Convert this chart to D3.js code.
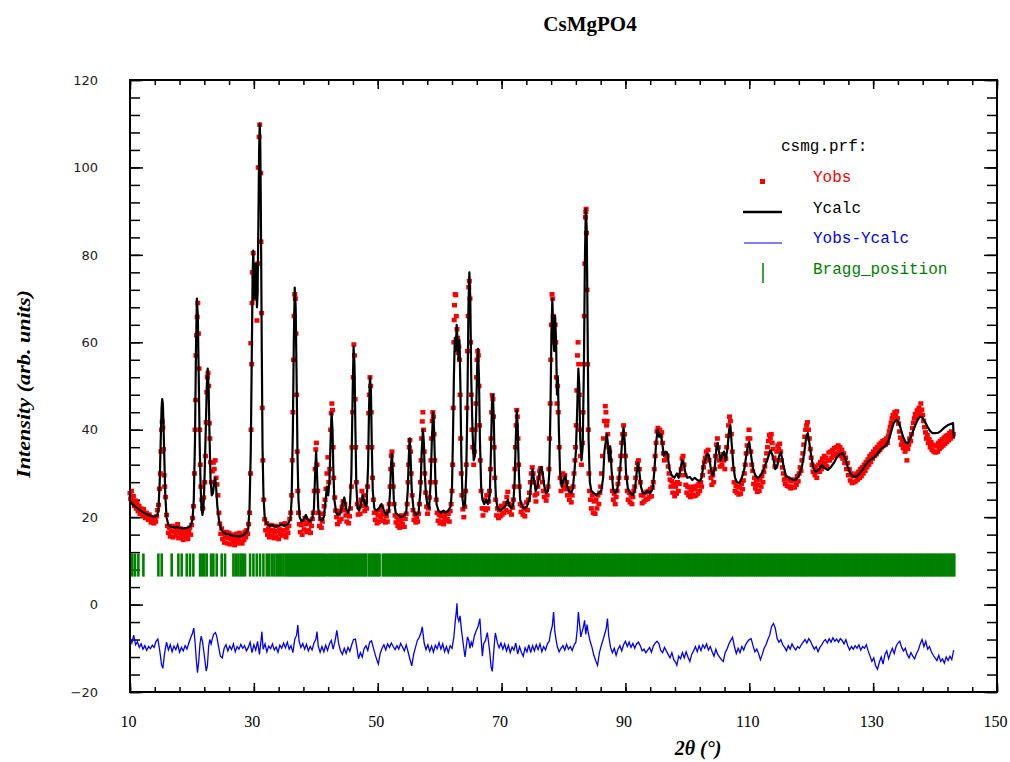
<!DOCTYPE html>
<html>
<head>
<meta charset="utf-8">
<script src="https://cdn.jsdelivr.net/npm/d3@7"></script>
<style>
    body { margin: 0; background: #fff; }
    svg { display: block; }
</style>
</head>
<body>
<script>
// tick labels
let xTicks = [10, 30, 50, 70, 90, 110, 130, 150];
let yTicks = [-20, 0, 20, 40, 60, 80, 100, 120];
let legendLabels = ["Yobs", "Ycalc", "Yobs-Ycalc", "Bragg_position"];

// calculated profile [2theta, intensity]
let yCalc = [
    [10.0,23.6],[10.4,23.0],[10.8,22.5],[11.2,22.0],[11.6,21.6],[12.0,21.2],[12.4,20.9],[12.8,20.6],[13.2,20.4],[13.6,20.2],
    [14.0,20.1],[14.4,20.3],[14.6,22],[14.8,28],[14.95,37],[15.1,45],[15.2,47],[15.3,46],[15.4,42],[15.55,33],
    [15.7,25],[15.9,20],[16.2,18.2],[16.6,17.8],[17.0,17.7],[17.4,17.6],[17.8,17.7],[18.2,17.5],[18.6,17.4],[19.0,17.5],
    [19.4,17.6],[19.8,18.0],[20.1,19.5],[20.3,24],[20.5,38],[20.65,58],[20.8,70],[20.95,66],[21.1,52],[21.25,37],
    [21.4,27],[21.55,22],[21.7,20.5],[21.85,22],[22.0,27],[22.2,38],[22.4,50],[22.55,54],[22.7,49],[22.85,38],
    [23.0,29],[23.2,25],[23.4,25.5],[23.6,28],[23.75,29],[23.9,27],[24.1,22.5],[24.4,19],[24.7,17.3],[25.0,16.6],
    [25.5,16.2],[26.0,16.0],[26.5,15.8],[27.0,15.7],[27.5,15.6],[28.0,15.7],[28.4,16.0],[28.8,16.5],[29.1,17.5],[29.3,22],
    [29.5,35],[29.65,55],[29.8,75],[29.9,81],[30.0,76],[30.1,70],[30.2,73],[30.3,78],[30.4,74],[30.5,68],
    [30.6,71],[30.75,90],[30.85,104],[30.95,110],[31.03,106],[31.1,96],[31.18,80],[31.28,58],[31.4,36],[31.55,25],
    [31.75,20],[32.05,18.5],[32.5,18.0],[33.0,18.2],[33.5,17.8],[34.0,18.0],[34.5,18.3],[35.0,18.0],[35.5,18.4],[35.9,19.5],
    [36.1,24],[36.3,40],[36.45,60],[36.6,72.5],[36.75,68],[36.9,52],[37.05,34],[37.2,24],[37.4,20],[37.7,19],
    [38.0,19.3],[38.4,20.5],[38.7,19.5],[39.0,19.0],[39.4,19.5],[39.7,22],[39.9,30],[40.05,35],[40.2,30],[40.4,22],
    [40.7,19.5],[41.0,19.2],[41.3,20],[41.6,24],[41.8,27],[42.0,25],[42.2,28],[42.4,38],[42.55,44],[42.7,40],
    [42.85,30],[43.0,24],[43.3,21],[43.6,20.5],[44.0,21],[44.3,23],[44.6,24.5],[44.9,22],[45.2,21],[45.5,22],
    [45.75,30],[45.95,48],[46.1,59],[46.25,55],[46.4,40],[46.55,27],[46.75,22],[47.0,21.5],[47.3,23],[47.6,25],
    [47.9,23],[48.2,22.5],[48.45,32],[48.6,45],[48.75,52],[48.9,49],[49.05,36],[49.2,26],[49.45,22],[49.8,21.5],
    [50.2,22],[50.6,23],[51.0,21.5],[51.4,20.5],[51.8,21.5],[52.0,26],[52.15,32],[52.3,34.5],[52.45,30],[52.6,24],
    [52.9,21],[53.3,20.5],[53.7,20],[54.2,20.3],[54.6,21],[54.85,26],[55.0,33],[55.15,38],[55.3,34],[55.5,26],
    [55.8,21.5],[56.2,20.5],[56.6,21],[56.9,26],[57.1,35],[57.3,40],[57.45,37],[57.6,30],[57.8,25],[58.0,23],
    [58.3,22],[58.55,28],[58.75,38],[58.95,44],[59.1,40],[59.3,29],[59.5,23],[59.8,21.5],[60.2,21],[60.6,21.5],
    [61.0,21],[61.4,21.5],[61.8,22.5],[62.0,27],[62.15,38],[62.3,52],[62.45,61],[62.6,58],[62.75,64],[62.9,60],
    [63.05,56],[63.2,60.5],[63.35,50],[63.5,34],[63.7,24],[63.9,22],[64.1,23],[64.3,30],[64.5,48],[64.65,68],
    [64.8,76],[64.95,70],[65.1,52],[65.3,40],[65.5,33],[65.7,34],[65.9,44],[66.05,54],[66.2,58.5],[66.35,52],
    [66.5,38],[66.7,27],[66.9,24],[67.2,23],[67.5,24],[67.8,23],[68.1,25],[68.3,36],[68.45,46],[68.6,48],
    [68.75,42],[68.9,31],[69.1,24],[69.4,22],[69.8,21.5],[70.2,22],[70.6,22.5],[71.0,24],[71.3,22.5],[71.6,22],
    [71.9,23],[72.1,28],[72.3,38],[72.45,44.5],[72.6,41],[72.8,30],[73.0,24],[73.3,22.5],[73.7,22],[74.1,22.5],
    [74.5,24],[74.8,28],[75.0,31],[75.2,29],[75.5,26],[75.8,27],[76.1,30],[76.4,31.5],[76.65,30],[76.9,27],
    [77.2,25.5],[77.5,26],[77.7,30],[77.9,45],[78.05,62],[78.2,70],[78.35,62],[78.5,58],[78.65,66],[78.8,60],
    [78.95,48],[79.1,52],[79.25,40],[79.45,30],[79.7,27],[80.0,28.5],[80.3,29.5],[80.6,27],[80.9,26],[81.2,25.5],
    [81.5,26.5],[81.8,31],[82.0,35],[82.2,44],[82.4,54],[82.55,50],[82.7,38],[82.9,33],[83.1,36],[83.3,55],
    [83.45,78],[83.6,90.5],[83.75,86],[83.9,62],[84.05,38],[84.25,28],[84.5,26],[84.9,25.5],[85.3,25],[85.7,25.5],
    [86.1,26],[86.4,29],[86.6,35],[86.8,37],[87.0,39],[87.15,37],[87.35,33],[87.55,36],[87.75,31],[88.0,26.5],
    [88.3,25.5],[88.6,26],[88.9,28],[89.2,32],[89.5,38],[89.7,40.5],[89.9,37],[90.1,30],[90.4,26.5],[90.8,25.5],
    [91.2,25],[91.5,26],[91.8,30],[92.0,32.5],[92.2,31],[92.5,27],[92.8,25.5],[93.2,25.5],[93.6,26],[94.0,25.5],
    [94.4,26.5],[94.7,31],[94.95,37],[95.2,40],[95.45,38.5],[95.7,39],[95.95,37],[96.2,34],[96.5,35],[96.8,34.5],
    [97.1,31],[97.5,29.5],[97.9,29],[98.3,30],[98.6,29],[98.9,31],[99.15,33],[99.4,32.5],[99.7,30],[100.0,29],
    [100.4,29.2],[100.8,28.5],[101.2,29],[101.6,28.5],[102.0,28.2],[102.3,29],[102.6,32],[102.9,33],[103.2,34.5],[103.5,34],
    [103.8,31],[104.1,29.5],[104.4,31],[104.7,36],[104.9,37],[105.1,35],[105.35,33],[105.6,34],[105.9,35],[106.2,33],
    [106.5,36],[106.75,40],[106.95,41],[107.15,37],[107.4,32],[107.7,29],[108.0,28],[108.4,27.8],[108.8,29],[109.2,31],
    [109.5,34],[109.8,36.5],[110.0,37.2],[110.3,34],[110.6,31],[111.0,29.5],[111.4,28.9],[111.8,29.5],[112.2,30.5],[112.6,32],
    [113.0,33.5],[113.4,35.3],[113.8,34],[114.2,31],[114.5,31.5],[114.8,34],[115.1,34.8],[115.5,32],[115.9,29.5],[116.4,29],
    [117.0,28.6],[117.5,28.5],[118.0,29.5],[118.5,31.5],[118.9,35],[119.2,38.5],[119.45,39.2],[119.7,37],[120.0,34],[120.3,31.5],
    [120.7,30.3],[121.2,30.8],[121.7,31.9],[122.2,31.2],[122.7,30.8],[123.2,31.5],[123.7,32.5],[124.2,33.8],[124.7,34.5],[125.1,34.6],
    [125.5,33.5],[125.9,31.5],[126.3,30],[126.8,29.3],[127.2,29.2],[127.7,29.8],[128.2,30.7],[128.7,31.8],[129.2,32.7],[129.7,33.3],
    [130.2,33.7],[130.7,34.5],[131.2,35.5],[131.7,36],[132.1,36.5],[132.5,37.5],[132.9,39.5],[133.3,41.5],[133.7,42.2],[134.0,42],
    [134.4,40.5],[134.8,38.5],[135.2,37.2],[135.6,36.9],[136.0,38],[136.4,39.5],[136.8,41],[137.2,42.3],[137.6,43],[138.0,42.7],
    [138.4,41.7],[138.8,40.6],[139.2,39.7],[139.6,39.2],[140.0,39.2],[140.5,39.3],[141.0,39.8],[141.5,40.5],[142.0,41],[142.5,41.3],
    [142.9,41.5],[143.02,38.2]
];

// observed points [2theta, intensity]
let yObs = [
    [10.0,25.5],[10.1,24.2],[10.25,26.0],[10.4,23.4],[10.55,24.8],[10.7,22.6],[10.85,23.8],[11.0,22.0],[11.15,23.2],[11.3,21.4],
    [11.45,22.6],[11.6,20.8],[11.75,22.0],[11.9,21.2],[12.05,20.4],[12.2,21.8],[12.35,20.6],[12.5,19.8],[12.65,21.0],[12.8,20.2],
    [12.95,19.4],[13.1,20.6],[13.25,19.6],[13.4,18.8],[13.55,20.0],[13.7,19.2],[13.85,18.6],[14.0,19.8],[14.15,19.0],[14.3,20.2],
    [14.45,21.6],[14.6,22.8],[14.75,26.5],[14.9,30.0],[15.0,35.0],[15.1,40.0],[15.2,41.8],[15.3,40.5],[15.4,35.5],[15.5,29.6],
    [15.6,27.0],[15.75,24.6],[15.9,20.5],[16.05,18.0],[16.2,16.4],[16.35,17.6],[16.5,15.6],[16.65,16.8],[16.8,18.0],[16.95,15.4],
    [17.1,16.6],[17.25,17.8],[17.4,15.8],[17.55,16.9],[17.7,18.4],[17.85,15.2],[18.0,16.4],[18.15,17.4],[18.3,15.6],[18.45,16.8],
    [18.6,14.8],[18.75,16.0],[18.9,17.2],[19.05,15.4],[19.2,16.4],[19.35,15.0],[19.5,16.8],[19.65,17.6],[19.8,16.0],[19.95,18.2],
    [20.1,19.8],[20.25,22.5],[20.4,30.0],[20.5,40.0],[20.6,46.8],[20.65,57.0],[20.75,61.6],[20.85,65.8],[20.95,69.0],[21.05,62.0],
    [21.15,54.0],[21.25,40.0],[21.35,32.0],[21.45,27.0],[21.6,24.0],[21.75,22.0],[21.9,24.5],[22.05,28.0],[22.2,34.0],[22.3,41.7],
    [22.4,48.6],[22.5,52.0],[22.6,53.0],[22.7,50.0],[22.8,41.5],[22.9,38.0],[23.0,32.6],[23.15,28.0],[23.3,30.5],[23.45,32.5],
    [23.6,31.0],[23.75,33.0],[23.9,29.0],[24.05,27.5],[24.2,25.0],[24.35,21.0],[24.5,18.5],[24.65,16.2],[24.8,17.4],[24.95,15.0],
    [25.1,16.2],[25.25,14.2],[25.4,15.4],[25.55,16.6],[25.7,14.0],[25.85,15.2],[26.0,16.4],[26.15,13.8],[26.3,15.0],[26.45,16.0],
    [26.6,14.4],[26.75,15.6],[26.9,13.6],[27.05,14.8],[27.2,16.2],[27.35,14.0],[27.5,15.2],[27.65,16.4],[27.8,14.4],[27.95,15.6],
    [28.1,14.0],[28.25,16.0],[28.4,14.8],[28.55,16.6],[28.7,15.4],[28.85,17.0],[29.0,16.2],[29.15,18.4],[29.3,21.0],[29.45,30.0],
    [29.5,59.8],[29.55,40.0],[29.65,55.0],[29.7,69.0],[29.75,76.0],[29.9,80.4],[30.05,75.0],[30.2,70.0],[30.35,72.0],[30.5,65.0],
    [30.65,78.0],[30.7,100.0],[30.85,107.0],[30.95,109.8],[31.0,83.0],[31.1,98.7],[31.15,83.0],[31.25,66.7],[31.35,45.0],[31.45,33.0],
    [31.6,24.0],[31.75,19.5],[31.9,17.0],[32.05,18.6],[32.2,16.0],[32.35,17.4],[32.5,15.4],[32.65,16.8],[32.8,18.2],[32.95,15.8],
    [33.1,17.0],[33.25,15.2],[33.4,16.6],[33.55,18.0],[33.7,15.6],[33.85,16.8],[34.0,15.0],[34.15,17.2],[34.3,16.2],[34.45,18.4],
    [34.6,15.8],[34.75,17.0],[34.9,16.0],[35.05,18.6],[35.2,15.4],[35.35,17.4],[35.5,16.4],[35.65,18.0],[35.8,19.6],[35.95,21.0],
    [36.1,25.0],[36.2,33.0],[36.3,44.0],[36.4,56.0],[36.5,66.0],[36.6,71.0],[36.7,70.0],[36.8,62.0],[36.9,48.0],[37.0,35.0],
    [37.1,26.0],[37.2,21.0],[37.35,18.4],[37.5,16.6],[37.65,18.2],[37.8,16.0],[37.95,19.0],[38.1,17.2],[38.25,19.8],[38.4,18.4],
    [38.55,16.6],[38.7,19.2],[38.85,17.0],[39.0,18.6],[39.15,16.4],[39.3,18.0],[39.45,19.6],[39.6,21.0],[39.75,26.0],[39.9,31.0],
    [40.0,35.5],[40.1,37.0],[40.2,32.0],[40.3,26.0],[40.45,21.0],[40.6,18.0],[40.75,19.6],[40.9,17.6],[41.05,19.0],[41.2,20.8],
    [41.35,22.5],[41.5,24.0],[41.65,26.5],[41.8,30.0],[41.95,33.7],[42.1,28.0],[42.25,31.0],[42.4,40.0],[42.5,43.8],[42.6,46.0],
    [42.7,44.5],[42.8,36.0],[42.9,29.0],[43.05,24.5],[43.2,21.5],[43.35,20.0],[43.5,18.4],[43.65,20.8],[43.8,19.0],[43.95,21.4],
    [44.1,19.6],[44.25,22.4],[44.4,23.6],[44.55,21.6],[44.7,23.0],[44.85,20.4],[45.0,19.0],[45.15,20.6],[45.3,18.6],[45.45,20.2],
    [45.6,22.0],[45.75,27.0],[45.85,36.0],[45.95,44.0],[46.05,52.0],[46.15,59.5],[46.25,57.0],[46.35,47.0],[46.45,36.0],[46.55,28.0],
    [46.7,23.0],[46.85,20.6],[47.0,22.4],[47.15,20.8],[47.3,24.0],[47.45,26.0],[47.6,22.6],[47.75,25.0],[47.9,21.4],[48.05,23.6],
    [48.2,22.0],[48.35,27.0],[48.45,36.0],[48.55,43.8],[48.65,48.0],[48.75,52.0],[48.85,50.0],[48.95,44.0],[49.05,36.0],[49.15,29.0],
    [49.3,24.0],[49.45,21.0],[49.6,19.4],[49.75,21.2],[49.9,18.6],[50.05,20.4],[50.2,19.0],[50.35,21.6],[50.5,20.0],[50.65,22.4],
    [50.8,21.0],[50.95,19.2],[51.1,20.6],[51.25,18.8],[51.4,20.2],[51.55,19.0],[51.7,21.4],[51.85,23.0],[52.0,27.0],[52.1,31.0],
    [52.2,34.0],[52.3,35.0],[52.4,32.0],[52.5,27.0],[52.65,23.0],[52.8,20.4],[52.95,18.8],[53.1,20.0],[53.25,18.0],[53.4,19.4],
    [53.55,17.6],[53.7,19.0],[53.85,20.4],[54.0,18.4],[54.15,19.8],[54.3,17.8],[54.45,19.6],[54.6,20.8],[54.75,23.0],[54.9,28.0],
    [55.0,32.0],[55.1,36.0],[55.2,37.6],[55.3,35.0],[55.4,30.0],[55.55,25.0],[55.7,21.6],[55.85,19.4],[56.0,20.6],[56.15,18.8],
    [56.3,20.0],[56.45,19.0],[56.6,20.8],[56.75,23.0],[56.9,28.0],[57.0,33.0],[57.1,38.0],[57.2,41.9],[57.3,44.0],[57.4,40.0],
    [57.5,35.0],[57.6,30.0],[57.75,25.6],[57.9,22.4],[58.05,20.8],[58.2,22.0],[58.35,24.5],[58.5,28.0],[58.6,33.0],[58.7,38.0],
    [58.8,42.0],[58.9,44.0],[59.0,43.0],[59.1,39.0],[59.2,33.0],[59.3,28.0],[59.45,24.0],[59.6,21.0],[59.75,19.2],[59.9,20.6],
    [60.05,18.6],[60.2,20.2],[60.35,19.0],[60.5,21.0],[60.65,18.4],[60.8,20.0],[60.95,19.2],[61.1,21.0],[61.25,19.6],[61.4,20.8],
    [61.55,19.0],[61.7,21.4],[61.85,23.0],[62.0,26.0],[62.1,32.0],[62.2,45.0],[62.3,60.0],[62.35,65.1],[62.4,68.5],[62.5,71.0],
    [62.6,70.8],[62.7,66.0],[62.8,63.0],[62.9,61.0],[63.0,57.6],[63.1,59.0],[63.2,56.0],[63.3,48.0],[63.4,38.0],[63.5,30.0],
    [63.6,25.0],[63.75,21.8],[63.9,20.0],[64.05,22.4],[64.2,26.0],[64.3,32.0],[64.4,45.0],[64.5,58.0],[64.6,66.0],[64.7,72.6],
    [64.8,74.0],[64.9,70.0],[65.0,60.0],[65.1,48.0],[65.2,40.0],[65.35,36.0],[65.5,32.0],[65.6,35.0],[65.75,40.0],[65.85,46.0],
    [65.95,52.0],[66.05,56.0],[66.15,58.0],[66.25,57.0],[66.35,50.0],[66.45,41.0],[66.55,33.0],[66.7,26.0],[66.85,22.0],[67.0,20.4],
    [67.15,22.0],[67.3,24.0],[67.45,21.6],[67.6,25.0],[67.75,22.0],[67.9,23.6],[68.05,26.0],[68.2,31.0],[68.3,38.0],[68.4,44.0],
    [68.5,47.9],[68.6,47.0],[68.7,43.0],[68.8,36.0],[68.9,29.0],[69.05,24.0],[69.2,20.4],[69.35,22.0],[69.5,19.8],[69.65,21.6],
    [69.8,20.2],[69.95,22.6],[70.1,20.6],[70.25,22.4],[70.4,21.0],[70.55,23.2],[70.7,21.6],[70.85,24.6],[71.0,25.8],[71.15,23.0],
    [71.3,21.2],[71.45,22.8],[71.6,20.6],[71.75,22.2],[71.9,24.0],[72.05,27.0],[72.15,31.0],[72.25,36.0],[72.35,41.0],[72.45,44.5],
    [72.55,43.0],[72.65,38.0],[72.75,32.0],[72.85,27.0],[73.0,23.0],[73.15,21.2],[73.3,22.6],[73.45,20.6],[73.6,22.0],[73.75,20.2],
    [73.9,21.8],[74.05,23.4],[74.2,21.6],[74.35,24.0],[74.5,25.6],[74.65,28.0],[74.8,30.0],[74.95,31.4],[75.1,30.0],[75.25,28.0],
    [75.4,25.0],[75.55,23.6],[75.7,25.4],[75.85,27.0],[76.0,29.0],[76.15,30.6],[76.3,31.2],[76.45,30.0],[76.6,28.0],[76.75,26.0],
    [76.9,24.6],[77.05,26.0],[77.2,23.8],[77.35,25.0],[77.5,27.0],[77.65,31.0],[77.75,38.0],[77.85,46.0],[77.95,56.0],[78.05,64.0],
    [78.15,71.0],[78.25,70.0],[78.35,66.0],[78.45,62.0],[78.55,60.0],[78.65,64.0],[78.75,60.0],[78.85,52.0],[78.95,46.0],[79.05,50.0],
    [79.15,44.0],[79.3,36.0],[79.45,29.0],[79.6,26.0],[79.75,28.0],[79.9,30.0],[80.05,27.0],[80.2,29.6],[80.35,26.4],[80.5,28.0],
    [80.65,25.0],[80.8,26.6],[80.95,24.0],[81.1,25.6],[81.25,23.4],[81.4,25.0],[81.55,27.0],[81.7,30.0],[81.85,33.0],[81.95,36.0],
    [82.05,41.0],[82.15,49.0],[82.25,57.0],[82.35,60.0],[82.45,55.0],[82.55,48.0],[82.65,40.0],[82.75,34.0],[82.9,32.0],[83.05,37.0],
    [83.15,44.0],[83.25,55.0],[83.35,66.0],[83.45,78.0],[83.55,88.6],[83.6,89.8],[83.65,90.5],[83.7,85.0],[83.8,72.0],[83.9,55.0],
    [84.0,40.0],[84.1,30.0],[84.2,26.0],[84.35,24.0],[84.5,22.0],[84.65,25.0],[84.8,21.0],[84.95,23.6],[85.1,20.8],[85.25,24.0],
    [85.4,22.0],[85.55,25.0],[85.7,23.0],[85.85,25.6],[86.0,27.0],[86.15,30.0],[86.3,34.0],[86.45,38.0],[86.6,42.0],[86.75,45.4],
    [86.85,44.0],[86.95,41.0],[87.05,42.0],[87.15,39.0],[87.3,36.0],[87.45,35.0],[87.6,33.0],[87.75,29.0],[87.9,26.0],[88.05,24.0],
    [88.2,25.4],[88.35,23.0],[88.5,24.6],[88.65,26.0],[88.8,27.6],[88.95,29.0],[89.1,31.0],[89.25,34.0],[89.4,37.0],[89.55,39.0],
    [89.7,41.0],[89.85,39.0],[90.0,34.0],[90.15,29.0],[90.3,26.0],[90.45,24.0],[90.6,25.6],[90.75,23.4],[90.9,25.0],[91.05,23.0],
    [91.2,24.6],[91.35,26.0],[91.5,27.0],[91.65,29.0],[91.8,31.0],[91.95,32.4],[92.1,33.0],[92.25,31.0],[92.4,28.0],[92.55,25.0],
    [92.7,23.2],[92.85,25.0],[93.0,23.6],[93.15,25.6],[93.3,24.0],[93.45,25.8],[93.6,24.2],[93.75,26.0],[93.9,24.6],[94.05,26.4],
    [94.2,24.8],[94.35,26.8],[94.5,28.0],[94.65,31.0],[94.8,34.0],[94.95,37.0],[95.1,39.6],[95.25,40.4],[95.4,39.0],[95.55,40.0],
    [95.7,38.6],[95.85,39.4],[96.0,37.0],[96.15,34.6],[96.3,33.0],[96.45,34.6],[96.6,33.2],[96.75,34.0],[96.9,31.6],[97.05,30.0],
    [97.2,28.6],[97.35,27.0],[97.5,28.2],[97.65,25.6],[97.8,27.6],[97.95,24.8],[98.1,27.0],[98.25,25.4],[98.4,28.0],[98.55,26.0],
    [98.7,27.6],[98.85,29.6],[99.0,31.0],[99.15,33.4],[99.3,34.0],[99.45,32.0],[99.6,29.6],[99.75,27.4],[99.9,25.6],[100.05,27.0],
    [100.2,25.0],[100.35,26.8],[100.5,24.6],[100.65,26.2],[100.8,25.2],[100.95,27.0],[101.1,24.8],[101.25,26.4],[101.4,25.0],[101.55,27.2],
    [101.7,25.4],[101.85,27.6],[102.0,26.0],[102.15,28.0],[102.3,27.0],[102.45,29.6],[102.6,31.4],[102.75,32.6],[102.9,33.6],[103.05,35.0],
    [103.2,34.0],[103.35,35.4],[103.5,33.0],[103.65,30.4],[103.8,29.0],[103.95,27.4],[104.1,29.6],[104.25,28.0],[104.4,31.0],[104.55,34.0],
    [104.7,36.6],[104.85,38.0],[105.0,36.0],[105.15,33.0],[105.3,31.6],[105.45,33.6],[105.6,32.0],[105.75,34.4],[105.9,33.0],[106.05,31.0],
    [106.2,33.4],[106.35,36.0],[106.5,38.6],[106.65,41.0],[106.8,43.0],[106.95,42.0],[107.1,39.0],[107.25,35.0],[107.4,31.0],[107.55,28.0],
    [107.7,26.0],[107.85,27.2],[108.0,25.6],[108.15,27.0],[108.3,25.2],[108.45,26.8],[108.6,25.4],[108.75,27.6],[108.9,26.4],[109.05,28.4],
    [109.2,30.0],[109.35,32.0],[109.5,34.6],[109.65,36.4],[109.8,38.0],[109.95,40.0],[110.1,38.0],[110.25,35.0],[110.4,32.0],[110.55,30.6],
    [110.7,27.6],[110.85,29.0],[111.0,26.6],[111.15,28.4],[111.3,25.8],[111.45,27.4],[111.6,26.0],[111.75,28.6],[111.9,27.0],[112.05,29.4],
    [112.2,28.0],[112.35,30.4],[112.5,31.6],[112.65,33.0],[112.8,34.6],[112.95,36.0],[113.1,37.4],[113.25,38.8],[113.4,38.0],[113.55,39.0],
    [113.7,37.0],[113.85,35.6],[114.0,33.6],[114.15,31.6],[114.3,33.0],[114.45,35.0],[114.6,36.4],[114.75,35.6],[114.9,36.8],[115.05,35.0],
    [115.2,33.0],[115.35,31.4],[115.5,30.0],[115.65,28.6],[115.8,27.6],[115.95,29.0],[116.1,27.2],[116.25,28.8],[116.4,27.0],[116.55,28.4],
    [116.7,26.6],[116.85,28.2],[117.0,27.0],[117.15,28.6],[117.3,26.8],[117.45,28.4],[117.6,27.4],[117.75,29.4],[117.9,28.2],[118.05,30.0],
    [118.2,31.4],[118.35,30.6],[118.5,33.0],[118.65,34.6],[118.8,36.6],[118.95,38.4],[119.1,40.0],[119.25,41.0],[119.4,41.7],[119.55,40.0],
    [119.7,38.0],[119.85,35.6],[120.0,33.6],[120.15,32.0],[120.3,30.4],[120.45,31.6],[120.6,29.6],[120.75,31.0],[120.9,29.0],[121.05,30.6],
    [121.2,32.0],[121.35,30.4],[121.5,32.6],[121.65,31.0],[121.8,33.4],[121.95,32.0],[122.1,34.0],[122.25,32.4],[122.4,33.6],[122.55,31.6],
    [122.7,33.0],[122.85,34.8],[123.0,33.0],[123.15,35.0],[123.3,33.6],[123.45,35.4],[123.6,34.0],[123.75,35.8],[123.9,34.4],[124.05,36.0],
    [124.2,34.6],[124.35,36.4],[124.5,35.0],[124.65,36.0],[124.8,34.0],[124.95,35.4],[125.1,33.4],[125.25,34.6],[125.4,32.4],[125.55,33.6],
    [125.7,31.0],[125.85,32.4],[126.0,29.6],[126.15,31.0],[126.3,28.4],[126.45,30.0],[126.6,27.8],[126.75,29.4],[126.9,28.0],[127.05,29.6],
    [127.2,28.2],[127.35,30.0],[127.5,28.6],[127.65,30.4],[127.8,29.0],[127.95,31.0],[128.1,29.4],[128.25,31.4],[128.4,30.0],[128.55,32.0],
    [128.7,30.6],[128.85,32.6],[129.0,31.4],[129.15,33.2],[129.3,32.0],[129.45,34.0],[129.6,32.6],[129.75,34.4],[129.9,33.4],[130.05,35.0],
    [130.2,34.0],[130.35,35.6],[130.5,34.4],[130.65,36.0],[130.8,35.0],[130.95,36.6],[131.1,35.4],[131.25,37.0],[131.4,36.0],[131.55,37.4],
    [131.7,36.4],[131.85,37.6],[132.0,36.6],[132.15,38.0],[132.3,37.0],[132.45,38.6],[132.6,39.6],[132.75,40.6],[132.9,41.6],[133.05,42.6],
    [133.2,43.4],[133.35,42.6],[133.5,44.0],[133.65,43.2],[133.8,44.2],[133.95,42.6],[134.1,41.4],[134.25,39.6],[134.4,38.2],[134.55,36.6],
    [134.7,37.6],[134.85,35.8],[135.0,36.8],[135.15,35.0],[135.3,36.4],[135.45,33.0],[135.6,35.6],[135.75,36.6],[135.9,38.0],[136.05,37.4],
    [136.2,39.0],[136.35,40.4],[136.5,41.6],[136.65,42.6],[136.8,43.6],[136.95,42.8],[137.1,44.4],[137.25,43.4],[137.4,45.0],[137.55,44.0],
    [137.7,46.0],[137.85,44.6],[138.0,43.4],[138.15,42.0],[138.3,40.6],[138.45,39.4],[138.6,38.0],[138.75,38.8],[138.9,37.0],[139.05,37.8],
    [139.2,36.0],[139.35,37.2],[139.5,35.4],[139.65,36.6],[139.8,35.0],[139.95,36.4],[140.1,34.8],[140.25,36.2],[140.4,35.0],[140.55,37.0],
    [140.7,35.6],[140.85,37.4],[141.0,36.0],[141.15,37.8],[141.3,36.4],[141.45,38.2],[141.6,36.8],[141.75,38.6],[141.9,37.2],[142.05,38.8],
    [142.2,37.6],[142.35,39.2],[142.5,38.0],[142.65,39.6],[142.8,38.4],[142.95,39.0]
];

// difference curve Yobs-Ycalc as plotted (offset below zero)
let yDiff = [
    [10.0,-7.5],[10.3,-8.8],[10.6,-7.0],[10.9,-9.2],[11.2,-8.5],[11.5,-9.8],[11.8,-9.0],[12.1,-10.2],[12.4,-9.4],[12.7,-10.5],
    [13.0,-9.6],[13.3,-10.1],[13.6,-9.3],[13.9,-9.8],[14.2,-8.4],[14.5,-7.9],[14.8,-10.5],[15.1,-13.8],[15.3,-14.6],[15.6,-11.0],
    [15.9,-8.6],[16.2,-10.4],[16.5,-9.2],[16.8,-10.8],[17.1,-9.5],[17.4,-10.3],[17.7,-9.1],[18.0,-10.9],[18.3,-9.8],[18.6,-10.6],
    [18.9,-9.4],[19.2,-10.2],[19.5,-8.8],[19.8,-7.6],[20.1,-6.5],[20.3,-5.4],[20.5,-8.5],[20.7,-12.5],[20.9,-15.6],[21.1,-13.0],
    [21.3,-9.0],[21.5,-7.2],[21.7,-8.4],[21.9,-10.5],[22.1,-12.8],[22.3,-15.2],[22.5,-14.0],[22.7,-9.5],[22.9,-8.0],[23.1,-9.0],
    [23.3,-7.8],[23.5,-6.8],[23.8,-6.4],[24.0,-7.2],[24.3,-9.6],[24.6,-11.8],[24.9,-12.2],[25.2,-10.0],[25.5,-9.2],[25.8,-10.6],
    [26.1,-9.5],[26.4,-10.3],[26.7,-9.0],[27.0,-10.8],[27.3,-9.6],[27.6,-10.2],[27.9,-9.1],[28.2,-10.0],[28.5,-9.4],[28.8,-10.6],
    [29.1,-9.8],[29.4,-8.6],[29.7,-11.0],[30.0,-9.2],[30.3,-10.4],[30.6,-8.4],[30.9,-11.4],[31.1,-9.0],[31.3,-6.2],[31.5,-10.2],
    [31.8,-9.0],[32.1,-10.8],[32.4,-9.5],[32.7,-10.1],[33.0,-9.0],[33.3,-10.4],[33.6,-9.7],[33.9,-10.9],[34.2,-9.3],[34.5,-10.0],
    [34.8,-8.8],[35.1,-9.9],[35.4,-8.6],[35.7,-10.2],[36.0,-9.4],[36.3,-11.0],[36.6,-8.0],[36.9,-7.0],[37.1,-4.7],[37.3,-8.4],
    [37.6,-9.8],[37.9,-8.9],[38.2,-10.2],[38.5,-9.1],[38.8,-10.6],[39.1,-9.6],[39.4,-10.4],[39.7,-8.8],[40.0,-8.0],[40.2,-6.2],
    [40.4,-9.5],[40.7,-10.9],[41.0,-9.6],[41.3,-10.8],[41.6,-9.3],[41.9,-10.5],[42.2,-9.0],[42.5,-8.2],[42.8,-10.2],[43.1,-8.4],
    [43.4,-5.9],[43.7,-9.0],[44.0,-10.6],[44.3,-11.4],[44.6,-10.0],[44.9,-11.2],[45.2,-9.8],[45.5,-10.7],[45.8,-9.2],[46.1,-8.0],
    [46.4,-7.9],[46.7,-10.5],[46.9,-12.4],[47.2,-11.0],[47.5,-12.0],[47.8,-10.1],[48.1,-9.4],[48.4,-10.5],[48.7,-8.6],[49.0,-8.3],
    [49.3,-9.9],[49.6,-11.5],[49.9,-12.8],[50.1,-13.6],[50.4,-11.2],[50.7,-10.0],[51.0,-9.2],[51.3,-10.4],[51.6,-9.0],[51.9,-9.8],
    [52.2,-8.8],[52.5,-9.6],[52.8,-10.3],[53.1,-9.4],[53.4,-10.2],[53.7,-8.9],[54.0,-9.7],[54.3,-10.6],[54.6,-9.2],[54.9,-10.8],
    [55.2,-12.5],[55.5,-14.0],[55.8,-11.4],[56.1,-9.8],[56.4,-8.2],[56.7,-7.5],[57.0,-6.4],[57.2,-5.1],[57.5,-8.8],[57.8,-10.3],
    [58.1,-9.2],[58.4,-10.7],[58.7,-9.5],[59.0,-10.9],[59.3,-9.3],[59.6,-10.1],[59.9,-8.7],[60.2,-10.2],[60.5,-9.0],[60.8,-10.8],
    [61.1,-9.6],[61.4,-11.0],[61.7,-9.4],[62.0,-10.0],[62.3,-7.4],[62.5,-4.2],[62.7,-1.5],[62.8,0.3],[62.9,-2.8],[63.1,-3.8],
    [63.3,-2.6],[63.5,-5.5],[63.7,-7.8],[63.9,-10.0],[64.1,-12.0],[64.3,-9.6],[64.5,-7.4],[64.7,-8.2],[64.9,-10.0],[65.1,-8.6],
    [65.3,-9.4],[65.6,-7.2],[65.9,-6.0],[66.2,-5.0],[66.5,-3.2],[66.7,-7.8],[66.9,-11.8],[67.1,-9.0],[67.4,-8.2],[67.7,-6.4],
    [67.9,-8.6],[68.1,-11.0],[68.3,-14.2],[68.5,-15.3],[68.7,-11.5],[68.9,-7.8],[69.0,-6.5],[69.3,-8.6],[69.6,-9.9],[69.9,-8.8],
    [70.2,-10.2],[70.5,-9.0],[70.8,-10.6],[71.1,-9.3],[71.4,-11.0],[71.7,-9.7],[72.0,-10.4],[72.3,-8.8],[72.6,-11.3],[72.9,-9.6],
    [73.2,-10.9],[73.5,-11.8],[73.8,-9.9],[74.1,-10.8],[74.4,-9.2],[74.7,-11.0],[75.0,-9.4],[75.3,-10.6],[75.6,-9.2],[75.9,-10.3],
    [76.2,-9.0],[76.5,-10.8],[76.8,-9.6],[77.1,-10.4],[77.4,-9.0],[77.7,-8.4],[77.9,-6.5],[78.2,-4.8],[78.4,-1.7],[78.6,-6.2],
    [78.8,-8.0],[79.0,-9.6],[79.3,-10.8],[79.6,-10.0],[79.9,-9.4],[80.2,-10.4],[80.5,-9.1],[80.8,-10.2],[81.1,-9.6],[81.4,-10.5],
    [81.7,-9.3],[82.0,-8.6],[82.2,-6.0],[82.4,-1.7],[82.6,-4.6],[82.8,-7.4],[83.0,-6.2],[83.2,-5.2],[83.4,-3.6],[83.6,-6.8],
    [83.8,-4.6],[84.0,-6.5],[84.3,-8.4],[84.6,-9.8],[84.9,-11.6],[85.2,-12.8],[85.5,-13.9],[85.8,-11.0],[86.1,-9.4],[86.4,-8.0],
    [86.7,-6.5],[86.9,-5.5],[87.1,-3.2],[87.3,-7.2],[87.6,-9.8],[87.9,-11.0],[88.2,-10.0],[88.5,-11.6],[88.8,-10.2],[89.1,-9.4],
    [89.4,-10.6],[89.7,-9.2],[90.0,-8.4],[90.3,-9.6],[90.6,-8.6],[90.9,-9.8],[91.2,-8.9],[91.5,-10.0],[91.8,-9.0],[92.1,-8.6],
    [92.4,-9.4],[92.7,-10.6],[93.0,-10.2],[93.3,-11.0],[93.6,-10.4],[93.9,-9.8],[94.2,-10.9],[94.5,-9.5],[94.8,-8.8],[95.1,-8.4],
    [95.4,-8.9],[95.7,-10.5],[96.0,-11.0],[96.3,-9.8],[96.6,-10.6],[96.9,-11.4],[97.2,-12.2],[97.5,-11.0],[97.8,-12.6],[98.1,-13.2],
    [98.3,-13.9],[98.6,-11.8],[98.9,-12.4],[99.2,-11.0],[99.5,-12.2],[99.8,-10.8],[100.1,-12.0],[100.4,-13.0],[100.7,-11.4],[101.0,-10.6],
    [101.3,-9.6],[101.6,-10.8],[101.9,-9.4],[102.2,-10.5],[102.5,-9.2],[102.8,-10.0],[103.1,-9.0],[103.4,-10.4],[103.7,-9.6],[104.0,-10.8],
    [104.3,-11.8],[104.6,-10.2],[104.9,-11.4],[105.2,-12.0],[105.5,-12.6],[105.8,-13.0],[106.1,-11.0],[106.4,-10.2],[106.7,-9.0],[107.0,-8.2],
    [107.3,-7.5],[107.6,-9.6],[107.9,-11.2],[108.2,-10.0],[108.5,-11.0],[108.8,-9.6],[109.1,-10.4],[109.4,-9.2],[109.7,-8.5],[110.0,-8.0],
    [110.3,-7.8],[110.6,-9.4],[110.9,-10.8],[111.2,-10.2],[111.5,-11.2],[111.8,-12.6],[112.1,-11.4],[112.4,-10.0],[112.7,-9.2],[113.0,-8.0],
    [113.3,-7.0],[113.6,-5.0],[113.9,-4.3],[114.2,-5.4],[114.5,-7.8],[114.8,-8.6],[115.1,-8.0],[115.4,-9.2],[115.7,-9.8],[116.0,-10.6],
    [116.3,-9.4],[116.6,-10.2],[116.9,-9.0],[117.2,-9.8],[117.5,-10.4],[117.8,-9.6],[118.1,-10.0],[118.4,-9.2],[118.7,-8.6],[119.0,-8.0],
    [119.3,-8.8],[119.6,-7.8],[119.9,-8.4],[120.2,-9.4],[120.5,-10.2],[120.8,-9.6],[121.1,-10.8],[121.4,-9.8],[121.7,-9.2],[122.0,-8.4],
    [122.3,-8.0],[122.6,-8.8],[122.9,-7.8],[123.2,-8.6],[123.5,-7.6],[123.8,-8.4],[124.1,-7.9],[124.4,-8.6],[124.7,-7.8],[125.0,-8.2],
    [125.3,-9.0],[125.6,-8.0],[125.9,-9.4],[126.2,-10.4],[126.5,-9.6],[126.8,-10.2],[127.1,-9.4],[127.4,-10.0],[127.7,-9.2],[128.0,-10.4],
    [128.3,-9.6],[128.6,-10.0],[128.9,-9.2],[129.2,-10.6],[129.5,-11.8],[129.8,-13.0],[130.1,-12.2],[130.4,-14.0],[130.7,-14.8],[131.0,-13.2],
    [131.3,-12.0],[131.6,-13.6],[131.9,-11.4],[132.2,-10.6],[132.5,-12.4],[132.8,-11.0],[133.1,-10.0],[133.4,-11.2],[133.7,-9.6],[134.0,-8.8],
    [134.3,-8.4],[134.6,-9.8],[134.9,-10.6],[135.2,-10.0],[135.5,-11.4],[135.8,-12.2],[136.1,-11.0],[136.4,-11.8],[136.7,-12.4],[137.0,-11.2],
    [137.3,-10.4],[137.6,-9.0],[137.9,-8.0],[138.2,-9.6],[138.5,-8.4],[138.8,-10.2],[139.1,-9.6],[139.4,-10.8],[139.7,-11.6],[140.0,-12.2],
    [140.3,-12.8],[140.6,-11.6],[140.9,-13.0],[141.2,-12.4],[141.5,-13.4],[141.8,-12.0],[142.1,-12.8],[142.4,-11.8],[142.7,-12.6],[143.0,-10.4]
];

// Bragg reflection positions (2theta)
let braggPos = [
    10.37, 10.81, 11.35, 12.16, 14.58, 15.12, 16.73, 17.81, 18.35, 19.16,
    19.69, 20.23, 21.31, 21.68, 22.0, 22.39, 23.09, 23.46, 24.0, 24.81,
    25.35, 26.7, 27.07, 27.5, 27.88, 28.2, 28.58, 29.39, 29.93, 30.47,
    31.0, 31.54, 32.08, 32.46, 32.89, 33.31, 33.7, 34.07, 34.4, 34.77,
    35.12, 35.41, 35.69, 35.98, 36.22, 36.51, 36.79, 37.08, 37.37, 37.62,
    37.91, 38.2, 38.47, 38.78, 39.06, 39.33, 39.61, 39.9, 40.18, 40.47,
    40.76, 41.04, 41.31, 41.6,
    42.02, 42.31, 42.6, 42.9, 43.19, 43.5, 43.79, 44.08, 44.38, 44.67,
    44.97, 45.26, 45.56, 45.85, 46.15, 46.44, 46.74, 47.03, 47.33, 47.62,
    47.92, 48.12, 48.55, 48.84, 49.14, 49.43, 49.73, 50.02, 50.3, 50.82,
    51.12, 51.41, 51.71, 52.0, 52.3, 52.59, 52.89, 53.18, 53.48, 53.77,
    54.07, 54.36, 54.66, 54.95, 55.25, 55.54, 55.84, 56.13, 56.43, 56.72,
    57.02, 57.31, 57.61, 57.9, 58.2, 58.49, 58.79, 59.08, 59.38, 59.67,
    59.97, 60.26, 60.56, 60.85, 61.15, 61.44, 61.74, 62.03, 62.33, 62.62,
    62.92, 63.21, 63.51, 63.8, 64.1, 64.39, 64.69, 64.98, 65.28, 65.57,
    65.87, 66.16, 66.46, 66.75, 67.05, 67.34, 67.64, 67.93, 68.23, 68.52,
    68.82, 69.11, 69.41, 69.7, 70.0, 70.29, 70.59, 70.88, 71.18, 71.47,
    71.77, 72.06, 72.36, 72.65, 72.95, 73.24, 73.54, 73.83, 74.13, 74.42,
    74.72, 75.01, 75.31, 75.6, 75.9, 76.19, 76.49, 76.78, 77.08, 77.37,
    77.67, 77.96, 78.26, 78.55, 78.85, 79.14, 79.44, 79.73, 80.03, 80.32,
    80.62, 80.91, 81.21, 81.5, 81.8, 82.09, 82.39, 82.68, 82.98, 83.27,
    83.57, 83.86, 84.16, 84.45, 84.75, 85.04, 85.34, 85.63, 85.93, 86.22,
    86.52, 86.81, 87.11, 87.4, 87.7, 87.99, 88.29, 88.58, 88.88, 89.17,
    89.47, 89.76, 90.06, 90.35, 90.65, 90.94, 91.24, 91.53, 91.83, 92.12,
    92.42, 92.71, 93.01, 93.3, 93.6, 93.89, 94.19, 94.48, 94.78, 95.07,
    95.37, 95.66, 95.96, 96.25, 96.55, 96.84, 97.14, 97.43, 97.73, 98.02,
    98.32, 98.61, 98.91, 99.2, 99.5, 99.79, 100.09, 100.38, 100.68, 100.97,
    101.27, 101.56, 101.86, 102.15, 102.45, 102.74, 103.04, 103.33, 103.63, 103.92,
    104.22, 104.51, 104.81, 105.1, 105.4, 105.69, 105.99, 106.28, 106.58, 106.87,
    107.17, 107.46, 107.76, 108.05, 108.35, 108.64, 108.94, 109.23, 109.53, 109.82,
    110.12, 110.41, 110.71, 111.0, 111.3, 111.59, 111.89, 112.18, 112.48, 112.77,
    113.07, 113.36, 113.66, 113.95, 114.25, 114.54, 114.84, 115.13, 115.43, 115.72,
    116.02, 116.31, 116.61, 116.9, 117.2, 117.49, 117.79, 118.08, 118.38, 118.67,
    118.97, 119.26, 119.56, 119.85, 120.15, 120.44, 120.74, 121.03, 121.33, 121.62,
    121.92, 122.21, 122.51, 122.8, 123.1, 123.39, 123.69, 123.98, 124.28, 124.57,
    124.87, 125.16, 125.46, 125.75, 126.05, 126.34, 126.64, 126.93, 127.23, 127.52,
    127.82, 128.11, 128.41, 128.7, 129.0, 129.29, 129.59, 129.88, 130.18, 130.47,
    130.77, 131.06, 131.36, 131.65, 131.95, 132.24, 132.54, 132.83, 133.13, 133.42,
    133.72, 134.01, 134.31, 134.6, 134.9, 135.19, 135.49, 135.78, 136.08, 136.37,
    136.67, 136.96, 137.26, 137.55, 137.85, 138.14, 138.44, 138.73, 139.03, 139.32,
    139.62, 139.91, 140.21, 140.5, 140.8, 141.09, 141.38, 141.68, 141.97, 142.27,
    142.56, 142.86, 143.1
];

let svgWidth = 1010,
    svgHeight = 762,
    plot = {left: 130, right: 997, top: 80, bottom: 692};

let svg = d3.select("body").append("svg")
    .attr("width", svgWidth)
    .attr("height", svgHeight);

svg.append("rect")
    .attr("width", svgWidth)
    .attr("height", svgHeight)
    .attr("fill", "#fff");

let xScale = d3.scaleLinear().domain([10, 150]).range([plot.left, plot.right]);
let yScale = d3.scaleLinear().domain([-20, 120]).range([plot.bottom, plot.top]);

let xMinor = d3.range(10, 151, 4);
let yMinor = d3.range(-20, 121, 4);

function drawAxis(axis, translate, labelled) {
    let g = svg.append("g").attr("transform", translate).call(axis);
    g.select(".domain").remove();
    g.selectAll(".tick line").attr("stroke", "#000").attr("stroke-width", 1.5);
    if (!labelled) g.selectAll(".tick text").remove();
    return g;
}

// minor ticks on four sides
drawAxis(d3.axisBottom(xScale).tickValues(xMinor).tickSize(-5), "translate(0," + plot.bottom + ")", false);
drawAxis(d3.axisTop(xScale).tickValues(xMinor).tickSize(-5), "translate(0," + plot.top + ")", false);
drawAxis(d3.axisLeft(yScale).tickValues(yMinor).tickSize(-10), "translate(" + plot.left + ",0)", false);
drawAxis(d3.axisRight(yScale).tickValues(yMinor).tickSize(-10), "translate(" + plot.right + ",0)", false);

// major ticks
let xAxisG = drawAxis(d3.axisBottom(xScale).tickValues(xTicks).tickSize(-9).tickPadding(24).tickFormat(d3.format("d")),
    "translate(0," + plot.bottom + ")", true);
xAxisG.selectAll(".tick text")
    .attr("font-family", "'Liberation Serif', 'Times New Roman', serif")
    .attr("font-size", 16)
    .attr("fill", "#000")
    .attr("dx", -2);
drawAxis(d3.axisTop(xScale).tickValues(xTicks).tickSize(-9), "translate(0," + plot.top + ")", false);

let yAxisG = drawAxis(d3.axisLeft(yScale).tickValues(yTicks).tickSize(-13).tickPadding(32).tickFormat(d3.format("d")),
    "translate(" + plot.left + ",0)", true);
yAxisG.selectAll(".tick text")
    .attr("font-family", "'DejaVu Sans', Verdana, sans-serif")
    .attr("font-size", 13)
    .attr("fill", "#222");
drawAxis(d3.axisRight(yScale).tickValues(yTicks).tickSize(-13), "translate(" + plot.right + ",0)", false);

// Bragg positions
svg.append("g").selectAll("line")
    .data(braggPos)
    .enter().append("line")
    .attr("x1", d => xScale(d))
    .attr("x2", d => xScale(d))
    .attr("y1", yScale(11.7))
    .attr("y2", yScale(6.4))
    .attr("stroke", "#008000")
    .attr("stroke-width", 2.6);

// difference curve
let line = d3.line().x(d => xScale(d[0])).y(d => yScale(d[1]));

svg.append("path")
    .datum(yDiff)
    .attr("d", line)
    .attr("fill", "none")
    .attr("stroke", "#0000ff")
    .attr("stroke-width", 1.3);

// observed points
svg.append("g").selectAll("rect")
    .data(yObs)
    .enter().append("rect")
    .attr("x", d => xScale(d[0]) - 2.5)
    .attr("y", d => yScale(d[1]) - 2.2)
    .attr("width", 5)
    .attr("height", 4.5)
    .attr("fill", "#ff0000");

// calculated profile
svg.append("path")
    .datum(yCalc)
    .attr("d", line)
    .attr("fill", "none")
    .attr("stroke", "#000")
    .attr("stroke-width", 2.2)
    .attr("stroke-linejoin", "round");

// frame
svg.append("rect")
    .attr("x", plot.left)
    .attr("y", plot.top)
    .attr("width", plot.right - plot.left)
    .attr("height", plot.bottom - plot.top)
    .attr("fill", "none")
    .attr("stroke", "#000")
    .attr("stroke-width", 2);

// titles
svg.append("text")
    .attr("x", 590).attr("y", 31)
    .attr("text-anchor", "middle")
    .attr("font-family", "'Liberation Serif', 'Times New Roman', serif")
    .attr("font-weight", "bold")
    .attr("font-size", 21)
    .text("CsMgPO4");

svg.append("text")
    .attr("transform", "translate(30,384) rotate(-90)")
    .attr("text-anchor", "middle")
    .attr("font-family", "'Liberation Serif', 'Times New Roman', serif")
    .attr("font-weight", "bold")
    .attr("font-style", "italic")
    .attr("font-size", 19)
    .attr("textLength", 188)
    .attr("lengthAdjust", "spacingAndGlyphs")
    .text("Intensity (arb. units)");

svg.append("text")
    .attr("x", 698).attr("y", 755)
    .attr("text-anchor", "middle")
    .attr("font-family", "'Liberation Serif', 'Times New Roman', serif")
    .attr("font-weight", "bold")
    .attr("font-style", "italic")
    .attr("font-size", 20)
    .text("2\u03b8 (\u00b0)");

// legend
let legendFont = "'Courier New', 'Liberation Mono', monospace";
let legendColors = ["#ff0000", "#000", "#0000ff", "#008000"];

svg.append("text")
    .attr("x", 781).attr("y", 151)
    .attr("font-family", legendFont)
    .attr("font-size", 16)
    .attr("fill", "#000")
    .text("csmg.prf:");

legendLabels.forEach((label, i) => {
    svg.append("text")
        .attr("x", 813).attr("y", 182 + i * 30.5)
        .attr("font-family", legendFont)
        .attr("font-size", 16)
        .attr("fill", legendColors[i])
        .text(label);
});

svg.append("rect")
    .attr("x", 760).attr("y", 179)
    .attr("width", 5).attr("height", 5)
    .attr("fill", "#ff0000");
svg.append("line")
    .attr("x1", 743).attr("x2", 782).attr("y1", 212).attr("y2", 212)
    .attr("stroke", "#000").attr("stroke-width", 2.5);
svg.append("line")
    .attr("x1", 744).attr("x2", 782).attr("y1", 243).attr("y2", 243)
    .attr("stroke", "#0000ff").attr("stroke-width", 1);
svg.append("line")
    .attr("x1", 763).attr("x2", 763).attr("y1", 263).attr("y2", 283)
    .attr("stroke", "#008000").attr("stroke-width", 1.5);
</script>
</body>
</html>
